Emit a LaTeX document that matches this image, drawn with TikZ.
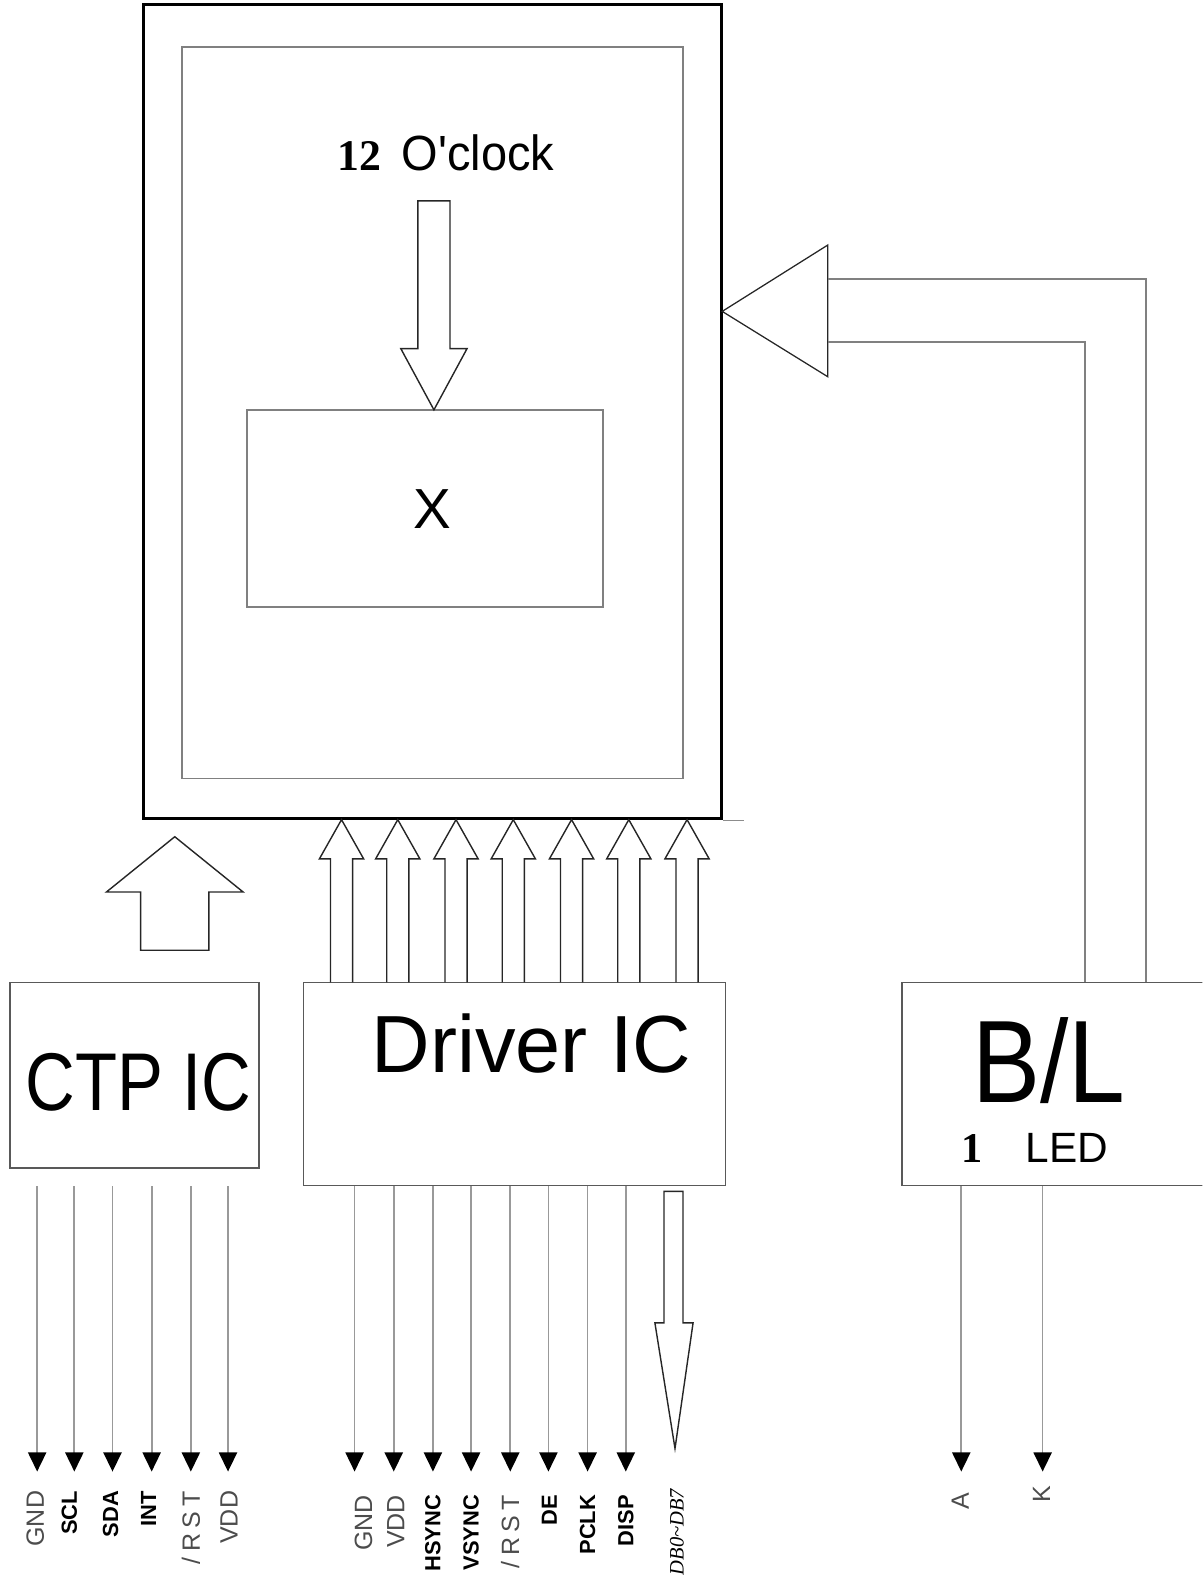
\documentclass[tikz,border=0pt]{standalone}
\usepackage{fontspec}
\setmainfont{Liberation Sans}
\newfontfamily\numfont{Liberation Serif}
\usetikzlibrary{arrows.meta, positioning}
\newcommand{\pinrst}{/\hspace{.22em}R\hspace{.22em}S\hspace{.22em}T}

\begin{document}
\begin{tikzpicture}[
    x=0.025cm, y=-0.025cm,
    frame/.style={rectangle, draw=black, line width=2.2pt, inner sep=0pt},
    panel/.style={rectangle, draw=black!50, line width=1.3pt, inner sep=0pt},
    chip/.style={rectangle, draw=black!65, line width=1.1pt, inner sep=0pt},
    bigarrow/.style={draw=black!85, line width=1pt},
    pin/.style={draw=black!40, line width=1.2pt, -{Triangle[width=12.8pt, length=13.5pt, color=black]}},
    blline/.style={draw=black!50, line width=1.4pt},
    bigtext/.style={anchor=base, inner sep=0pt},
    pinlabel/.style={rotate=90, anchor=east, inner sep=0pt, text=black!70, font=\fontsize{17.7}{18}\selectfont},
    pinbold/.style={rotate=90, anchor=east, inner sep=0pt, font=\bfseries\fontsize{15.5}{16}\selectfont}
]
\useasboundingbox (0,0) rectangle (1197,1568);
\clip (0,0) rectangle (1197,1568);

% display module
\node[frame, minimum width=14.375cm, minimum height=20.25cm] (lcd) at (430.5,410) {};
\node[panel, minimum width=12.475cm, minimum height=18.2cm] (view) at (430.5,411) {};
\node[panel, minimum width=8.85cm, minimum height=4.9cm] (xbox) at (423,506) {};
\node[bigtext, font=\fontsize{40}{40}\selectfont] (xmark) at (430,526) {X};
\node[bigtext, font=\numfont\bfseries\fontsize{31}{31}\selectfont] (twelve) at (358,170) {12};
\node[bigtext, font=\fontsize{35}{35}\selectfont, xscale=0.95] (oclock) at (476,170) {O\textquotesingle clock};
\draw[bigarrow] (416,200) -- (448,200) -- (448,347) -- (465,347) -- (432,408)
    -- (399,347) -- (416,347) -- cycle;
\draw[draw=black!45, line width=1pt] (lcd.south east) -- ++(21,0);

% ICs
\node[chip, minimum width=6.2cm, minimum height=4.625cm] (ctp) at (134,1070.5) {};
\node[chip, minimum width=10.5cm, minimum height=5.05cm] (driver) at (512,1079) {};
\node[chip, minimum width=8.8cm, minimum height=5.05cm] (bl) at (1074,1079) {};
\node[bigtext, font=\fontsize{58}{58}\selectfont, xscale=0.84] (ctptext) at (138,1106) {CTP IC};
\node[bigtext, font=\fontsize{57.4}{58}\selectfont] (drvtext) at (529,1068) {Driver IC};
\node[bigtext, font=\fontsize{83}{83}\selectfont, xscale=0.87] (bltext) at (1044,1098) {B/L};
\node[bigtext, font=\numfont\bfseries\fontsize{30}{30}\selectfont] (ledcount) at (968,1157) {1};
\node[bigtext, font=\fontsize{30}{30}\selectfont] (ledtext) at (1062,1157) {LED};

% hollow arrows into the module
\draw[bigarrow] (140,946) -- (140,888) -- (106,888) -- (174,833) -- (242,888)
    -- (208,888) -- (208,946) -- cycle;
\foreach \x in {340,396,454,511,569,626,684}
    \draw[bigarrow] (\x-11,978) -- (\x-11,855) -- (\x-22,855) -- (\x,816)
        -- (\x+22,855) -- (\x+11,855) -- (\x+11,978);
\draw[bigarrow] (661,1186) -- (661,1317) -- (652,1317) -- (672,1442) -- (690,1317)
    -- (680,1317) -- (680,1186) -- cycle;

% backlight feed
\coordinate (bltip) at (719,310);
\coordinate (blin1) at (824,278);
\coordinate (blin2) at (824,340);
\coordinate (blup) at (1141,278);
\coordinate (bldn) at (1080,340);
\draw[bigarrow, line width=0.9pt] (bltip) -- (824,244) -- (824,375) -- cycle;
\draw[blline] (bl.north -| blup) -- (blup) -- (blin1);
\draw[blline] (bl.north -| bldn) -- (bldn) -- (blin2);

% pins
\foreach \x/\lx/\t/\s [count=\i] in {37/35/GND/pinlabel, 74/69/SCL/pinbold, 112/110/SDA/pinbold,
        151/148/INT/pinbold, 190/190/\pinrst/pinlabel, 227/228/VDD/pinlabel} {
    \coordinate (ctp\i) at (\x,1465);
    \draw[pin] (driver.south -| ctp\i) -- (ctp\i);
    \node[\s] (ctplabel\i) at (\lx,1484) {\t};
}
\foreach \x/\lx/\t/\s [count=\i] in {353/362/GND/pinlabel, 392/394/VDD/pinlabel,
        431/431/HSYNC/pinbold, 469/469/VSYNC/pinbold, 508/508/\pinrst/pinlabel,
        546/547/DE/pinbold, 585/585/PCLK/pinbold, 623/623/DISP/pinbold} {
    \coordinate (drv\i) at (\x,1465);
    \draw[pin] (driver.south -| drv\i) -- (drv\i);
    \node[\s] (drvlabel\i) at (\lx,1488) {\t};
}
\node[rotate=90, anchor=east, inner sep=0pt, font=\numfont\itshape\fontsize{14.5}{15}\selectfont]
    (dblabel) at (674,1482) {DB0\textasciitilde DB7};
\coordinate (bla) at (957,1465);
\coordinate (blk) at (1038,1465);
\draw[pin] (bl.south -| bla) -- (bla);
\draw[pin] (bl.south -| blk) -- (blk);
\node[pinlabel] (alabel) at (956,1486) {A};
\node[pinlabel] (klabel) at (1037,1479) {K};
\end{tikzpicture}
\end{document}
